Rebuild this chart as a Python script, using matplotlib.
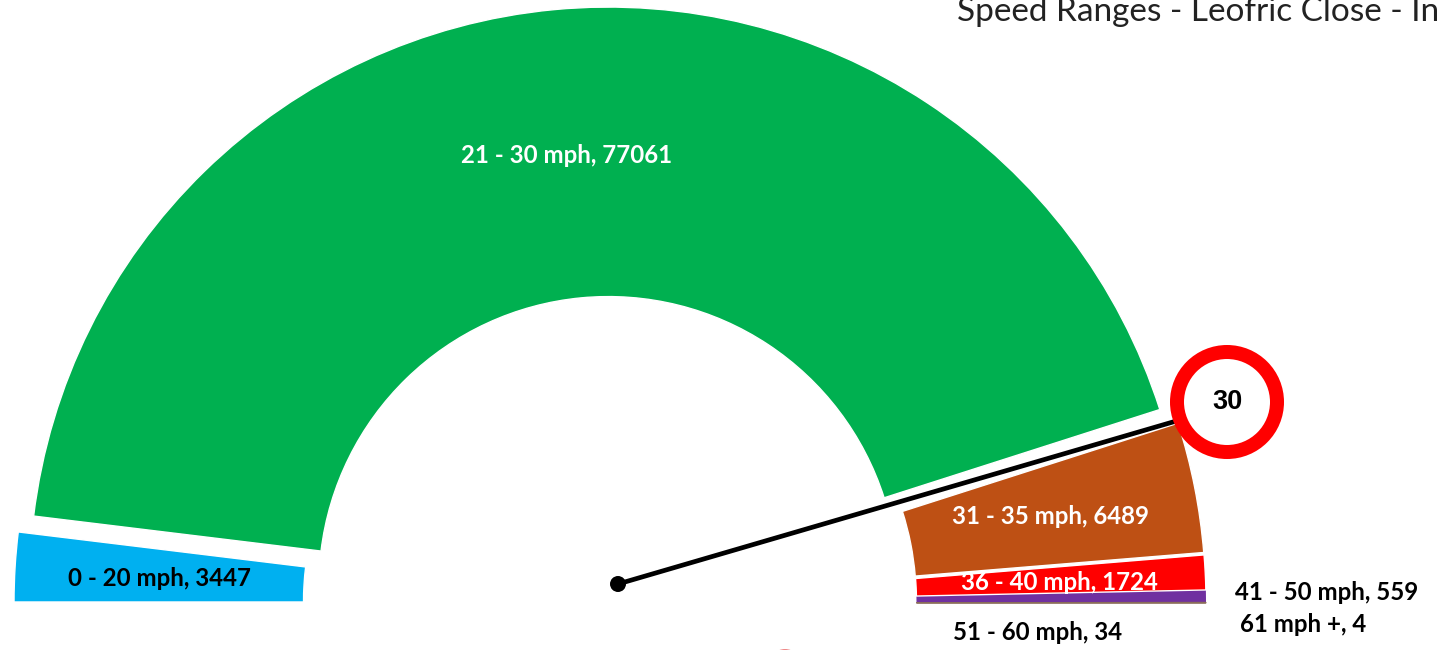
import matplotlib
matplotlib.use("Agg")
import matplotlib.pyplot as plt
from matplotlib.patches import Circle

# datos del grafico
categories = ["0 - 20 mph", "21 - 30 mph", "31 - 35 mph", "36 - 40 mph",
              "41 - 50 mph", "51 - 60 mph", "61 mph +"]
counts = [3447, 77061, 6489, 1724, 559, 34, 4]
colors = ["#00B0F0", "#00B050", "#BE5014", "#FF0000", "#7030A0", "#8A6D5A", "#8A6D5A"]
limit_label = "30"
title_text = "Speed Ranges - Leofric Close - In"

W, H = 1442, 650
R = 579.0          # radio exterior en pixeles
CX, CY = 610, 603  # centro del donut en pixeles


def px(x, y):
    return (x - CX) / R, (CY - y) / R


fig = plt.figure(figsize=(W / 100, H / 100), dpi=100)
ax = fig.add_axes([0, 0, 1, 1])

# la mitad inferior es un sector invisible, como en el truco de Excel
hidden = sum(counts)
wedges, _ = ax.pie(counts + [hidden], colors=colors + ["none"],
                   explode=[17 / R] * len(counts) + [0],
                   startangle=180, counterclock=False, radius=1,
                   wedgeprops=dict(width=0.5, edgecolor="white", linewidth=1.0))
wedges[-1].set_edgecolor("none")
wedges[4].set_edgecolor("none")
for w in wedges[5:7]:
    w.set_edgecolor(w.get_facecolor())
    w.set_linewidth(0.6)

ax.set_aspect("equal")
ax.set_xlim(-CX / R, (W - CX) / R)
ax.set_ylim((CY - H) / R, CY / R)
ax.axis("off")

# aguja
x0, y0 = px(618, 584)
x1, y1 = px(1190, 417)
ax.plot([x0, x1], [y0, y1], color="black", lw=3.4, solid_capstyle="butt", zorder=5)
ax.add_patch(Circle((x0, y0), 8 / R, fc="black", ec="none", zorder=6))

# senal de limite
ax.add_patch(Circle(px(1227, 402), 50 / R, fc="white", ec="#FF0000", lw=14 * 0.72, zorder=7))
ax.text(*px(1227, 402), limit_label, family="Liberation Sans", weight="bold", fontsize=19.5,
        color="black", ha="center", va="center", zorder=8)

# trocito de otra forma cortada abajo
ax.add_patch(Circle(px(785, 665), 16 / R, fc="#EE8888", ec="none", zorder=1))

# etiquetas
label_pos = [(159, 578), (567, 156), (1051, 517), (1059, 583), (1327, 592), (1038, 632), (1303, 624)]
label_col = ["black", "white", "white", "white", "black", "black", "black"]
for cat, val, pos, col in zip(categories, counts, label_pos, label_col):
    ax.text(*px(*pos), f"{cat}, {val}", family="Lato", weight="bold", fontsize=17.3,
            color=col, ha="center", va="center", zorder=9)

ax.text(*px(957, 21), title_text, family="Lato", fontsize=24, color="#222222",
        ha="left", va="baseline", zorder=9)

fig.savefig("out.png", dpi=100, facecolor="white")
